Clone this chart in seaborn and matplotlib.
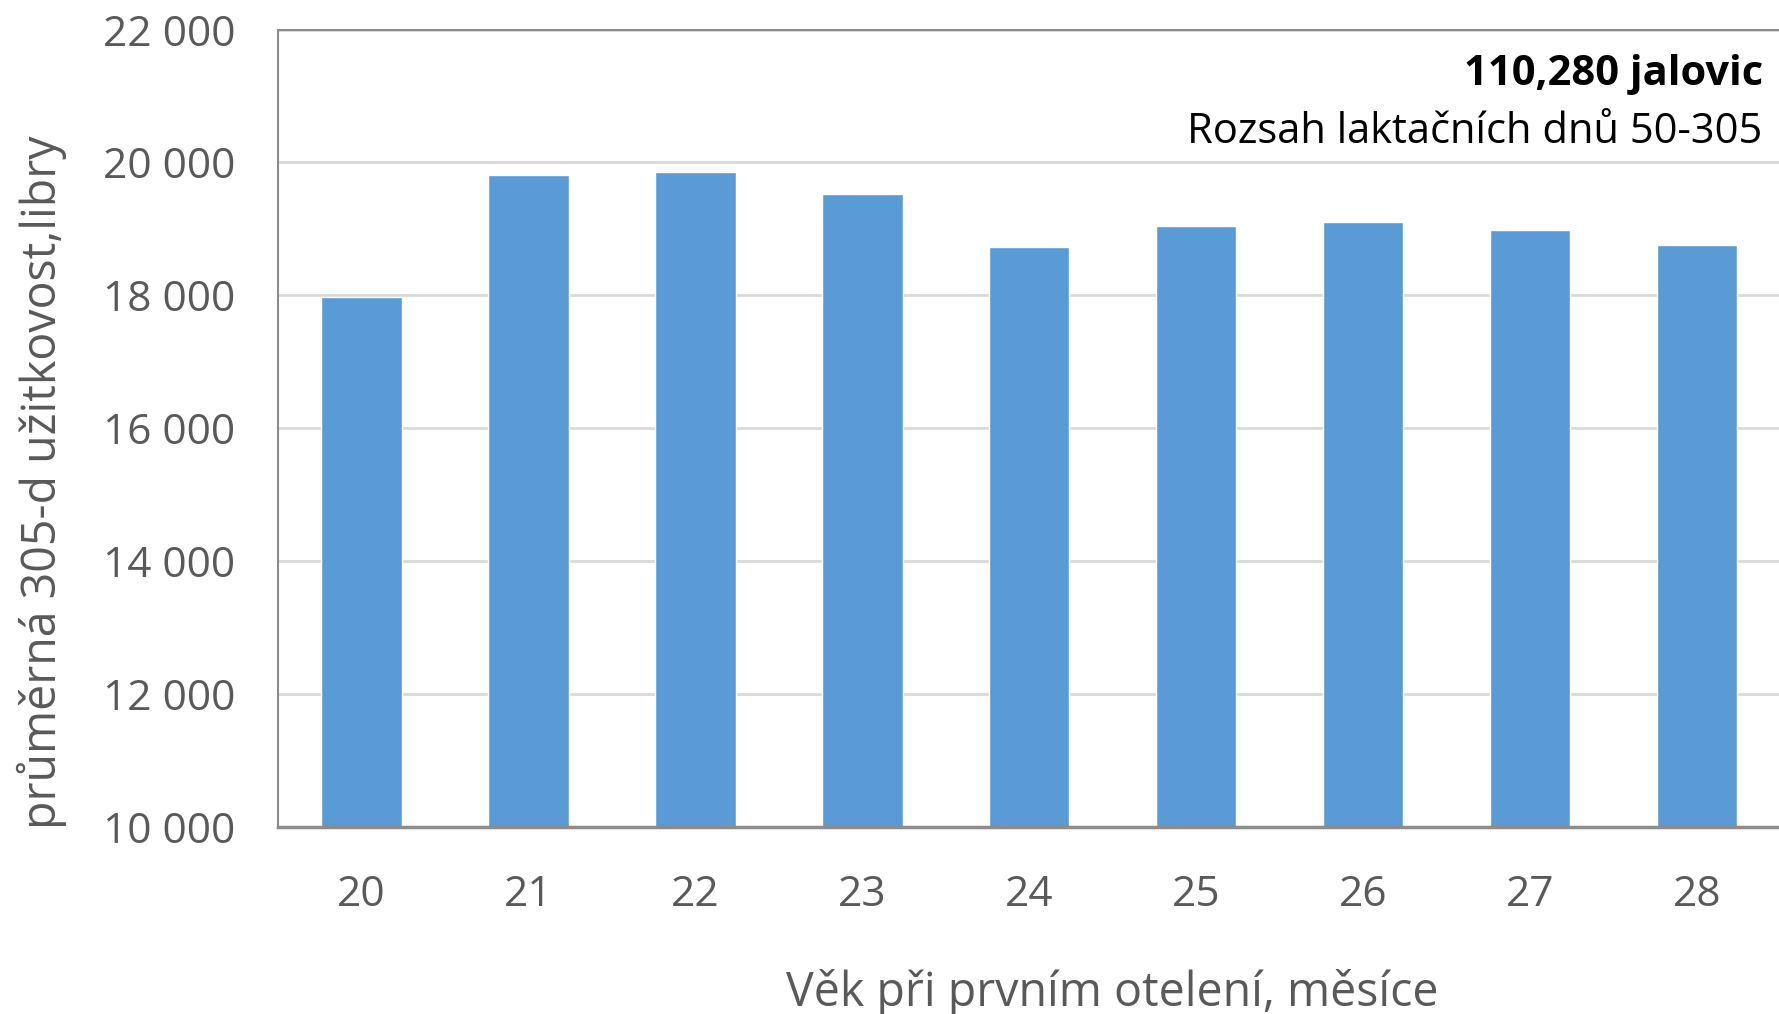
import pandas as pd
import matplotlib
matplotlib.use('Agg')
import matplotlib.pyplot as plt
import matplotlib.ticker as mticker
import seaborn as sns

# age at first calving (months) and average 305-d yield (lb)
ages = ['20', '21', '22', '23', '24', '25', '26', '27', '28']
yields = [17980, 19810, 19860, 19520, 18720, 19040, 19110, 18990, 18750]
y_ticks = [10000, 12000, 14000, 16000, 18000, 20000, 22000]

df = pd.DataFrame({'age': ages, 'milk': yields})

sns.set_style('white')
plt.rcParams['font.family'] = ['Open Sans', 'DejaVu Sans']

fig = plt.figure(figsize=(17.79, 10.14), dpi=100)
ax = fig.add_axes([0.1563, 0.1844, 0.8447, 0.7865])

sns.barplot(data=df, x='age', y='milk', order=ages, color='#5B9BD5',
            saturation=1, width=0.48, ax=ax)

ax.set_ylim(10000, 22000)
ax.set_xlim(-0.5, 8.5)
ax.set_yticks(y_ticks)
ax.yaxis.set_major_formatter(mticker.FuncFormatter(lambda v, p: f"{int(v):,}".replace(',', ' ')))
ax.grid(axis='y', color='#D9D9D9', linewidth=2)
ax.set_axisbelow(True)

for side in ['left', 'top']:
    ax.spines[side].set_color('#8C8C8C')
    ax.spines[side].set_linewidth(1.5)
ax.spines['bottom'].set_color('#8C8C8C')
ax.spines['bottom'].set_linewidth(2.5)
ax.spines['right'].set_visible(False)

ax.tick_params(axis='y', labelsize=30.5, colors='#595959', length=0, pad=31)
ax.tick_params(axis='x', labelsize=30.5, colors='#595959', length=0, pad=34)

ax.set_ylabel('průměrná 305-d užitkovost,libry', fontsize=33.5, color='#595959')
ax.set_xlabel('Věk při prvním otelení, měsíce', fontsize=33.5, color='#595959')
ax.yaxis.set_label_coords(-0.157, 0.432)
ax.xaxis.set_label_coords(0.555, -0.208)
ax.xaxis.label.set_va('center')
ax.yaxis.label.set_va('center')

ax.text(0.988, 0.943, '110,280 jalovic', transform=ax.transAxes, ha='right', va='center',
        fontsize=30, fontweight='bold', color='black')
ax.text(0.988, 0.872, 'Rozsah laktačních dnů 50-305', transform=ax.transAxes, ha='right',
        va='center', fontsize=30, color='black')

fig.savefig('out.png', dpi=100)
